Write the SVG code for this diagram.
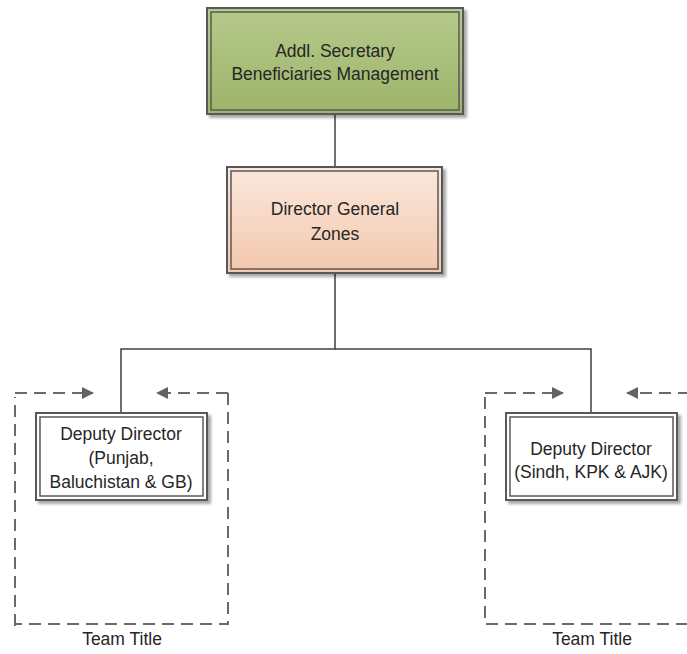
<svg xmlns="http://www.w3.org/2000/svg" width="687" height="654" viewBox="0 0 687 654">
<defs>
<linearGradient id="gGreen" x1="0" y1="0" x2="0" y2="1"><stop offset="0" stop-color="#b7ca8c"/><stop offset="1" stop-color="#9db46a"/></linearGradient>
<linearGradient id="gPeach" x1="0" y1="0" x2="0" y2="1"><stop offset="0" stop-color="#fae7dc"/><stop offset="1" stop-color="#f4c8ac"/></linearGradient>
<marker id="ah" viewBox="0 0 12 12" refX="11" refY="6" markerWidth="12" markerHeight="12" markerUnits="userSpaceOnUse" orient="auto"><path d="M0,0 L12,6 L0,12 z" fill="#636363"/></marker>
<filter id="sh" x="-10%" y="-10%" width="130%" height="130%"><feGaussianBlur in="SourceAlpha" stdDeviation="1.5"/><feOffset dx="3" dy="3"/><feComponentTransfer><feFuncA type="linear" slope="0.35"/></feComponentTransfer><feMerge><feMergeNode/><feMergeNode in="SourceGraphic"/></feMerge></filter>
</defs>
<style>
text{font-family:"Liberation Sans",Arial,sans-serif;font-size:17.5px;fill:#262626;text-anchor:middle}
.outer{stroke:#595959;stroke-width:2}
.inner{fill:none;stroke:#595959;stroke-width:1.5}
.conn{fill:none;stroke:#404040;stroke-width:1.5}
.dash{fill:none;stroke:#6a6a6a;stroke-width:2;stroke-dasharray:12 7}
</style>
<g id="connectors">
<line class="conn" x1="335" y1="115" x2="335" y2="168"/>
<polyline class="conn" points="335,273 335,349 121,349 121,412"/>
<polyline class="conn" points="335,349 591,349 591,412"/>
</g>
<g id="team-left">
<path class="dash" d="M15,626 L15,397"/>
<path class="dash" d="M228,393 L228,624 L15,624"/>
<line class="dash" x1="15" y1="393" x2="93" y2="393" marker-end="url(#ah)"/>
<line class="dash" x1="228" y1="393" x2="157" y2="393" marker-end="url(#ah)"/>
<text x="122" y="645">Team Title</text>
</g>
<g id="team-right">
<path class="dash" d="M485,397 L485,624 L687,624"/>
<line class="dash" x1="485" y1="393" x2="563" y2="393" marker-end="url(#ah)"/>
<line class="dash" x1="690" y1="393" x2="627" y2="393" marker-end="url(#ah)"/>
<text x="592" y="645">Team Title</text>
</g>
<g id="node-addl-secretary">
<rect class="outer" x="207" y="8" width="256" height="106" fill="url(#gGreen)" filter="url(#sh)"/>
<rect class="inner" x="211" y="12" width="248" height="98"/>
<text x="335" y="57">Addl. Secretary</text>
<text x="335" y="80">Beneficiaries Management</text>
</g>
<g id="node-director-general">
<rect class="outer" x="227" y="167" width="215" height="106" fill="url(#gPeach)" filter="url(#sh)"/>
<rect class="inner" x="231" y="171" width="207" height="98"/>
<text x="335" y="215">Director General</text>
<text x="335" y="240">Zones</text>
</g>
<g id="node-deputy-left">
<rect class="outer" x="36" y="413" width="171" height="87" fill="#ffffff" filter="url(#sh)"/>
<rect class="inner" x="40" y="417" width="163" height="79"/>
<text x="121" y="440">Deputy Director</text>
<text x="121" y="464">(Punjab,</text>
<text x="121" y="488">Baluchistan &amp; GB)</text>
</g>
<g id="node-deputy-right">
<rect class="outer" x="506" y="413" width="171" height="87" fill="#ffffff" filter="url(#sh)"/>
<rect class="inner" x="510" y="417" width="163" height="79"/>
<text x="591" y="455">Deputy Director</text>
<text x="591" y="478">(Sindh, KPK &amp; AJK)</text>
</g>
</svg>
